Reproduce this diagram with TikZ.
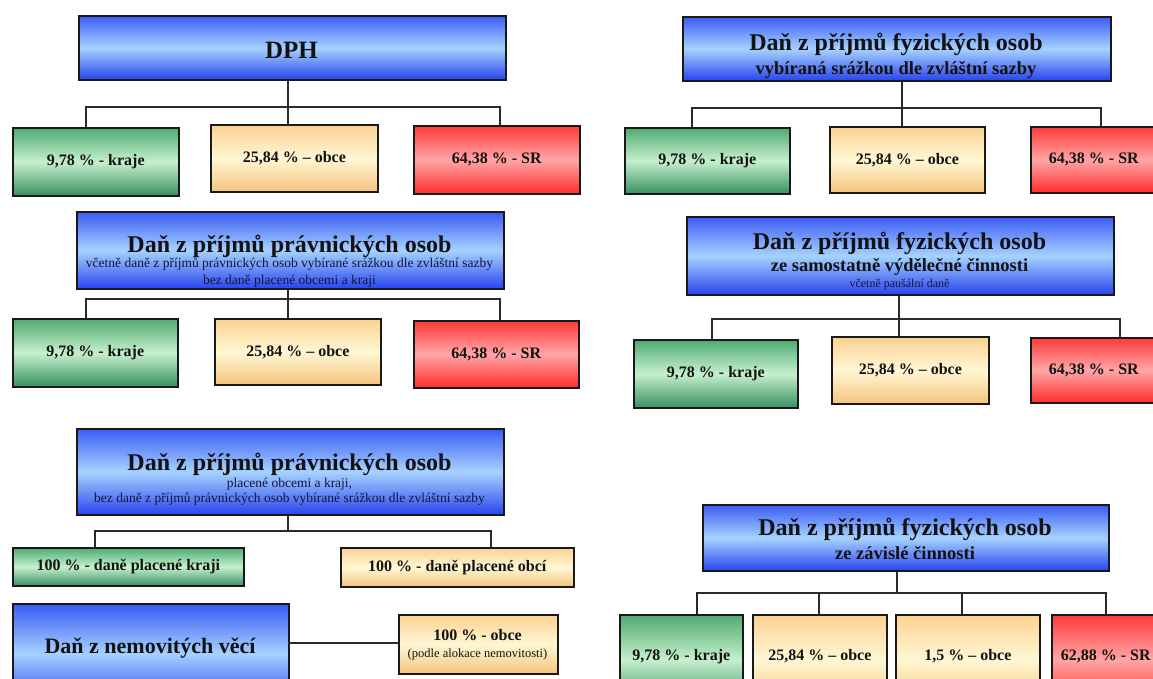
\documentclass[tikz,border=0pt]{standalone}
\usepackage{fontspec}
\setmainfont{Liberation Serif}
\definecolor{bluT}{HTML}{3B5BF4}
\definecolor{bluM}{HTML}{A6D2FF}
\definecolor{bluB}{HTML}{2844EE}
\definecolor{grnT}{HTML}{4FAA72}
\definecolor{grnM}{HTML}{C6F0CE}
\definecolor{grnB}{HTML}{379060}
\definecolor{yelT}{HTML}{FBD192}
\definecolor{yelM}{HTML}{FFF7D4}
\definecolor{yelB}{HTML}{F5C47E}
\definecolor{redT}{HTML}{FF3A3A}
\definecolor{redM}{HTML}{FFA6A6}
\definecolor{redB}{HTML}{FF2C2C}
\definecolor{ink}{HTML}{121212}
\definecolor{navy}{HTML}{14143C}
\definecolor{linec}{HTML}{2A2A2A}
\tikzset{
  boxbase/.style={rectangle, draw=black!90, line width=1.6pt, inner sep=0pt, anchor=north west, text=ink},
  bluebox/.style={boxbase, top color=bluT, bottom color=bluB, middle color=bluM},
  greenbox/.style={boxbase, top color=grnT, bottom color=grnB, middle color=grnM},
  yellowbox/.style={boxbase, top color=yelT, bottom color=yelB, middle color=yelM},
  redbox/.style={boxbase, top color=redT, bottom color=redB, middle color=redM},
  lab/.style={font=\fontsize{16}{18}\selectfont\bfseries},
  conn/.style={draw=linec, line width=1.7pt},
  ttl/.style={anchor=base, inner sep=0pt, text=ink, font=\fontsize{24}{28}\selectfont\bfseries},
  subttl/.style={anchor=base, inner sep=0pt, text=ink, font=\fontsize{18.5}{22}\selectfont\bfseries},
  small/.style={anchor=base, inner sep=0pt, text=navy, font=\fontsize{13.5}{16}\selectfont},
}
\begin{document}
\begin{tikzpicture}[x=1pt,y=-1pt]
\useasboundingbox (0,0) rectangle (1153,678);
\clip (0,0) rectangle (1153,678);
\fill[white] (0,0) rectangle (1153,678);

% ---------- top left: DPH ----------
\node[bluebox, minimum width=427, minimum height=64] (dph) at (78,15) {};
\node[ttl, font=\fontsize{25}{28}\selectfont\bfseries] (dpht) at (291.5,58) {DPH};
\node[greenbox, lab, minimum width=166, minimum height=68] (g1) at (12,127) {9,78 \% - kraje};
\node[yellowbox, lab, minimum width=167, minimum height=67] (y1) at (210,124) {25,84 \% – obce};
\node[redbox, lab, minimum width=166, minimum height=68] (r1) at (413,125) {64,38 \% - SR};
\coordinate (a1) at (86,107);
\coordinate (a2) at (288,107);
\coordinate (a3) at (500,107);
\draw[conn] (a1 |- g1.north) -- (a1) -- (a3) -- (a3 |- r1.north);
\draw[conn] (a2 |- dph.south) -- (a2 |- y1.north);

% ---------- top right ----------
\node[bluebox, minimum width=428, minimum height=64] (fo1) at (682,16) {};
\node[ttl] (fo1t) at (896,50) {Daň z příjmů fyzických osob};
\node[subttl] (fo1s) at (896,74) {vybíraná srážkou dle zvláštní sazby};
\node[greenbox, lab, minimum width=165, minimum height=66] (g2) at (624,127) {9,78 \% - kraje};
\node[yellowbox, lab, minimum width=155, minimum height=66] (y2) at (829,126) {25,84 \% – obce};
\node[redbox, lab, minimum width=166, minimum height=66] (r2) at (1030,126) {\hspace*{-40pt}64,38 \% - SR};
\coordinate (b1) at (692,108);
\coordinate (b2) at (902,108);
\coordinate (b3) at (1101,108);
\draw[conn] (b1 |- g2.north) -- (b1) -- (b3) -- (b3 |- r2.north);
\draw[conn] (b2 |- fo1.south) -- (b2 |- y2.north);

% ---------- middle left ----------
\node[bluebox, minimum width=427, minimum height=77] (po1) at (76,211) {};
\node[ttl] (po1t) at (289.5,252) {Daň z příjmů právnických osob};
\node[small] (po1s) at (289.5,267.5) {včetně daně z příjmů právnických osob vybírané srážkou dle zvláštní sazby};
\node[small] (po1u) at (289.5,284) {bez daně placené obcemi a kraji};
\node[greenbox, lab, minimum width=165, minimum height=68] (g3) at (12,318) {9,78 \% - kraje};
\node[yellowbox, lab, minimum width=166, minimum height=66] (y3) at (214,318) {25,84 \% – obce};
\node[redbox, lab, minimum width=165, minimum height=67] (r3) at (413,320) {64,38 \% - SR};
\coordinate (c1) at (86,299);
\coordinate (c2) at (288,299);
\coordinate (c3) at (500,299);
\draw[conn] (c1 |- g3.north) -- (c1) -- (c3) -- (c3 |- r3.north);
\draw[conn] (c2 |- po1.south) -- (c2 |- y3.north);

% ---------- middle right ----------
\node[bluebox, minimum width=427, minimum height=78] (fo2) at (686,216) {};
\node[ttl] (fo2t) at (899.5,249) {Daň z příjmů fyzických osob};
\node[subttl] (fo2s) at (899.5,271.5) {ze samostatně výdělečné činnosti};
\node[small, font=\fontsize{12}{14}\selectfont] (fo2u) at (899.5,287.5) {včetně paušální daně};
\node[greenbox, lab, minimum width=164, minimum height=68] (g4) at (633,339) {9,78 \% - kraje};
\node[yellowbox, lab, minimum width=157, minimum height=67] (y4) at (831,336) {25,84 \% – obce};
\node[redbox, lab, minimum width=166, minimum height=65] (r4) at (1030,337) {\hspace*{-40pt}64,38 \% - SR};
\coordinate (d1) at (712,319);
\coordinate (d2) at (899,319);
\coordinate (d3) at (1120,319);
\draw[conn] (d1 |- g4.north) -- (d1) -- (d3) -- (d3 |- r4.north);
\draw[conn] (d2 |- fo2.south) -- (d2 |- y4.north);

% ---------- bottom left ----------
\node[bluebox, minimum width=427, minimum height=86] (po2) at (76,428) {};
\node[ttl] (po2t) at (289.5,470) {Daň z příjmů právnických osob};
\node[small] (po2s) at (289.5,487) {placené obcemi a kraji,};
\node[small] (po2u) at (289.5,502) {bez daně z příjmů právnických osob vybírané srážkou dle zvláštní sazby};
\node[greenbox, lab, minimum width=231, minimum height=38] (g5) at (12,547) {100 \% - daně placené kraji};
\node[yellowbox, lab, minimum width=233, minimum height=39] (y5) at (340,547) {100 \% - daně placené obcí};
\coordinate (e1) at (95,531);
\coordinate (e2) at (288,531);
\coordinate (e3) at (491,531);
\draw[conn] (e1 |- g5.north) -- (e1) -- (e3) -- (e3 |- y5.north);
\draw[conn] (e2 |- po2.south) -- (e2);

\node[bluebox, minimum width=276, minimum height=100] (nem) at (12,603) {};
\node[ttl, font=\fontsize{22}{26}\selectfont\bfseries] (nemt) at (150,653) {Daň z nemovitých věcí};
\node[yellowbox, minimum width=159, minimum height=59] (ob) at (398,614) {};
\node[anchor=base, inner sep=0pt, text=ink, font=\fontsize{16}{18}\selectfont\bfseries] (obt) at (477.5,640) {100 \% - obce};
\node[anchor=base, inner sep=0pt, text=ink, font=\fontsize{12.5}{14}\selectfont] (obs) at (477.5,657) {(podle alokace nemovitosti)};
\coordinate (f1) at (288,643);
\draw[conn] (f1) -- (f1 -| ob.west);

% ---------- bottom right ----------
\node[bluebox, minimum width=406, minimum height=66] (fo3) at (702,504) {};
\node[ttl] (fo3t) at (905,535) {Daň z příjmů fyzických osob};
\node[subttl] (fo3s) at (905,559) {ze závislé činnosti};
\node[greenbox, lab, minimum width=123, minimum height=90, text depth=10pt] (g6) at (619,614) {9,78 \% - kraje};
\node[yellowbox, lab, minimum width=134, minimum height=90, text depth=10pt] (y6) at (752,614) {25,84 \% – obce};
\node[yellowbox, lab, minimum width=144, minimum height=90, text depth=10pt] (y7) at (895,614) {1,5 \% – obce};
\node[redbox, lab, minimum width=140, minimum height=90, text depth=10pt] (r6) at (1051,614) {\hspace*{-32pt}62,88 \% - SR};
\coordinate (h1) at (697,593);
\coordinate (h2) at (819,593);
\coordinate (h3) at (962,593);
\coordinate (h4) at (1106,593);
\coordinate (h0) at (897,593);
\draw[conn] (h1 |- g6.north) -- (h1) -- (h4) -- (h4 |- r6.north);
\draw[conn] (h2) -- (h2 |- y6.north);
\draw[conn] (h3) -- (h3 |- y7.north);
\draw[conn] (h0 |- fo3.south) -- (h0);
\end{tikzpicture}
\end{document}
